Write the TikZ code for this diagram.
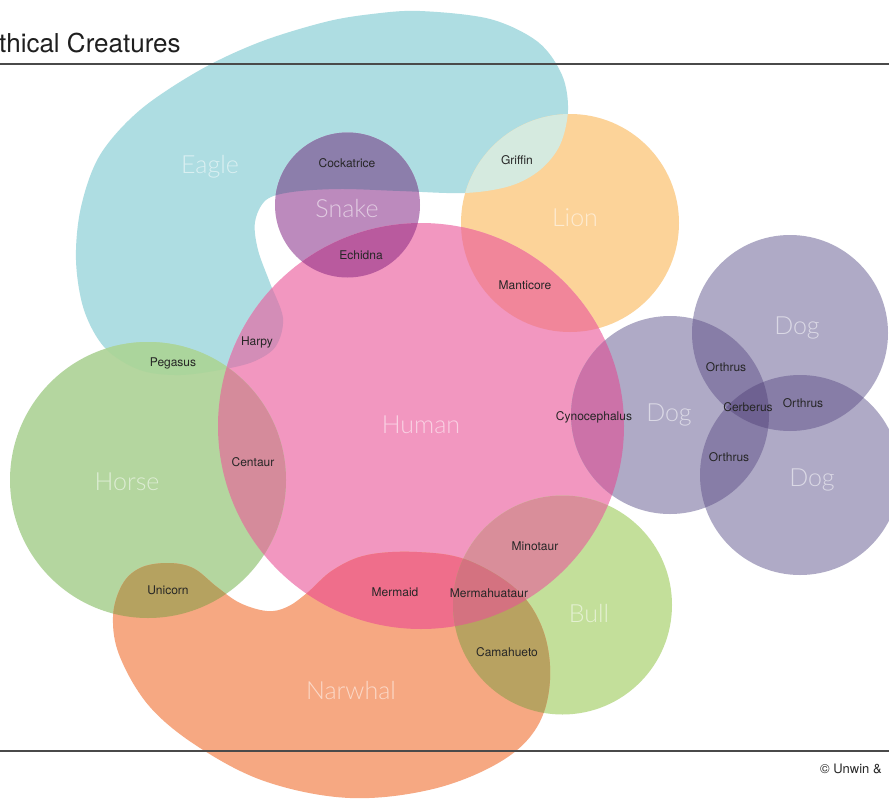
\documentclass[tikz,border=0pt]{standalone}
\usepackage{fontspec}
\setmainfont{TeX Gyre Heros}
\newfontfamily\lightfont{Lato Light}
\definecolor{ceagle}{HTML}{AEDDE2}
\definecolor{clion}{HTML}{FCD399}
\definecolor{cgriffin}{HTML}{D5EADF}
\definecolor{chuman}{HTML}{F297C0}
\definecolor{cmanticore}{HTML}{F1869A}
\definecolor{charpy}{HTML}{D38DB7}
\definecolor{csnake}{HTML}{BC8ABD}
\definecolor{ccockatrice}{HTML}{8C7EAB}
\definecolor{cechidna}{HTML}{B95A9E}
\definecolor{chorse}{HTML}{B4D69F}
\definecolor{cpegasus}{HTML}{ABD59C}
\definecolor{ccentaur}{HTML}{D58B9B}
\definecolor{cunicorn}{HTML}{B5A260}
\definecolor{cnarwhal}{HTML}{F6A882}
\definecolor{cmermaid}{HTML}{EF6E8B}
\definecolor{cbull}{HTML}{C3DF9A}
\definecolor{cminotaur}{HTML}{D98E9A}
\definecolor{cmermahuataur}{HTML}{D47280}
\definecolor{ccamahueto}{HTML}{B8A261}
\definecolor{cdog}{HTML}{AFAAC6}
\definecolor{ccyno}{HTML}{CC72A8}
\definecolor{corthrus}{HTML}{877DA7}
\definecolor{ccerberus}{HTML}{6E6191}
\definecolor{crule}{HTML}{4A4A4A}
\def\pEagle{plot[smooth cycle,tension=0.55] coordinates {(420,11) (490,19) (538,42) (562,75) (568,110) (560,145) (540,170) (510,186) (465,193) (400,191) (340,189) (292,192) (266,200) (255,222) (258,250) (270,283) (283,318) (276,346) (255,361) (225,369) (180,375) (140,370) (105,348) (84,310) (76,260) (81,207) (100,155) (140,110) (200,70) (260,42) (325,22) (372,14)}}
\def\pNarwhal{plot[smooth cycle,tension=0.6] coordinates {(167,563) (193,568) (217,587) (240,603) (267,611) (287,607) (307,593) (333,570) (367,555) (417,552) (467,560) (517,590) (543,630) (550,680) (537,727) (500,762) (433,789) (350,798) (267,782) (200,748) (150,707) (120,657) (113,617) (122,585) (140,568)}}
\def\pHuman{(421,426) circle[radius=203]}
\def\pLion{(570,223) circle[radius=109]}
\def\pSnake{(347.5,205) circle[radius=72.5]}
\def\pHorse{(148,480) circle[radius=138]}
\def\pBull{(562.5,605) circle[radius=109.5]}
\def\pDogA{(670,415) circle[radius=99]}
\def\pDogB{(790,333) circle[radius=98]}
\def\pDogC{(800,475) circle[radius=100]}
\begin{document}
\begin{tikzpicture}[x=1pt,y=-1pt,
  big/.style={text=white,text opacity=0.55,font=\lightfont\fontsize{25}{29}\selectfont},
  small/.style={text=black!85,font=\fontsize{12}{14}\selectfont},
  rule/.style={draw=crule,line width=1.2pt}]
\clip (0,0) rectangle (889,798);
\fill[white] (0,0) rectangle (889,798);
% base shapes
\fill[ceagle] \pEagle;
\fill[clion] \pLion;
\fill[csnake] \pSnake;
\fill[chuman] \pHuman;
\fill[chorse] \pHorse;
\fill[cbull] \pBull;
\fill[cnarwhal] \pNarwhal;
\fill[cdog] \pDogA;
\fill[cdog] \pDogB;
\fill[cdog] \pDogC;
% two-way overlaps
\begin{scope}\clip \pEagle; \fill[cgriffin] \pLion; \end{scope}
\begin{scope}\clip \pEagle; \fill[ccockatrice] \pSnake; \end{scope}
\begin{scope}\clip \pSnake; \fill[cechidna] \pHuman; \end{scope}
\begin{scope}\clip \pLion; \fill[cmanticore] \pHuman; \end{scope}
\begin{scope}\clip \pEagle; \fill[charpy] \pHuman; \end{scope}
\begin{scope}\clip \pEagle; \fill[cpegasus] \pHorse; \end{scope}
\begin{scope}\clip \pHorse; \fill[ccentaur] \pHuman; \end{scope}
\begin{scope}\clip \pHorse; \fill[cunicorn] \pNarwhal; \end{scope}
\begin{scope}\clip \pHuman; \fill[cmermaid] \pNarwhal; \end{scope}
\begin{scope}\clip \pHuman; \fill[cminotaur] \pBull; \end{scope}
\begin{scope}\clip \pBull; \fill[ccamahueto] \pNarwhal; \end{scope}
\begin{scope}\clip \pHuman; \fill[ccyno] \pDogA; \end{scope}
\begin{scope}\clip \pDogA; \fill[corthrus] \pDogB; \end{scope}
\begin{scope}\clip \pDogA; \fill[corthrus] \pDogC; \end{scope}
\begin{scope}\clip \pDogB; \fill[corthrus] \pDogC; \end{scope}
% three-way overlaps
\begin{scope}\clip \pHuman; \clip \pBull; \fill[cmermahuataur] \pNarwhal; \end{scope}
\begin{scope}\clip \pDogA; \clip \pDogB; \fill[ccerberus] \pDogC; \end{scope}
% rules
\draw[rule] (0,64) -- (889,64);
\draw[rule] (0,751) -- (889,751);
% title and credit
\node[anchor=base west,inner sep=0pt,text=black!88,font=\fontsize{26}{30}\selectfont] (title) at (-1,52) {thical Creatures};
\node[anchor=base west,inner sep=0pt,text=black!85,font=\fontsize{13}{15}\selectfont] (credit) at (820,773) {© Unwin \&};
% big labels
\node[big] (eagle) at (210,167) {Eagle};
\node[big] (snake) at (347,209) {Snake};
\node[big] (lion) at (575,218) {Lion};
\node[big] (human) at (421,425) {Human};
\node[big] (horse) at (127,482) {Horse};
\node[big] (narwhal) at (351,690) {Narwhal};
\node[big] (bull) at (589,613) {Bull};
\node[big] (dogA) at (669,415) {Dog};
\node[big] (dogB) at (797,328) {Dog};
\node[big] (dogC) at (812,480) {Dog};
% small labels
\node[small] (cockatrice) at (347,163) {Cockatrice};
\node[small] (griffin) at (517,160) {Griffin};
\node[small] (echidna) at (361,255) {Echidna};
\node[small] (manticore) at (525,285) {Manticore};
\node[small] (harpy) at (257,342) {Harpy};
\node[small] (pegasus) at (173,363) {Pegasus};
\node[small] (centaur) at (253,462) {Centaur};
\node[small] (cyno) at (594,417) {Cynocephalus};
\node[small] (orthrusA) at (726,367) {Orthrus};
\node[small] (cerberus) at (748,407) {Cerberus};
\node[small] (orthrusB) at (803,403) {Orthrus};
\node[small] (orthrusC) at (729,457) {Orthrus};
\node[small] (minotaur) at (535,546) {Minotaur};
\node[small] (unicorn) at (168,590) {Unicorn};
\node[small] (mermaid) at (395,592) {Mermaid};
\node[small] (mermahuataur) at (489,593) {Mermahuataur};
\node[small] (camahueto) at (507,652) {Camahueto};
\end{tikzpicture}
\end{document}
